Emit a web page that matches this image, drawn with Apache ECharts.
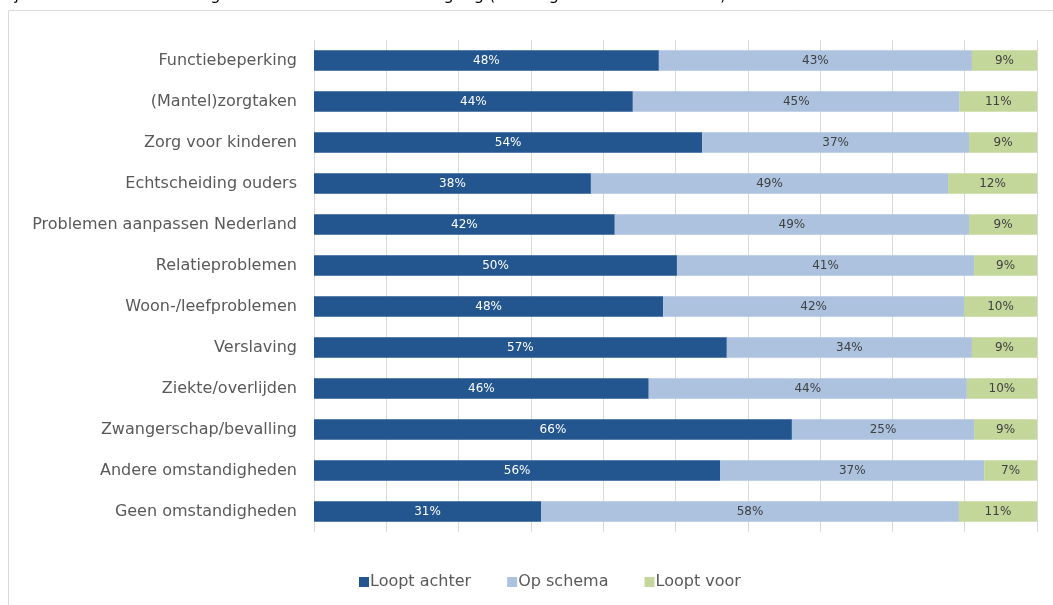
<!DOCTYPE html>
<html><head><meta charset="utf-8">
<script src="https://cdn.jsdelivr.net/npm/echarts@6/dist/echarts.min.js"></script>
<style>html,body{margin:0;padding:0;background:#fff}#c{width:1053px;height:605px}</style>
</head><body><div id="c"></div>
<script>
const categories = ["Functiebeperking","(Mantel)zorgtaken","Zorg voor kinderen","Echtscheiding ouders","Problemen aanpassen Nederland","Relatieproblemen","Woon-/leefproblemen","Verslaving","Ziekte/overlijden","Zwangerschap/bevalling","Andere omstandigheden","Geen omstandigheden"];
const looptAchter = [47.7,44.1,53.7,38.3,41.6,50.2,48.3,57.1,46.3,66.1,56.2,31.4];
const opSchema    = [43.3,45.2,36.9,49.4,49.0,41.1,41.6,33.9,44.0,25.2,36.5,57.8];
const looptVoor   = [9.0,10.7,9.4,12.3,9.4,8.7,10.1,9.0,9.7,8.7,7.3,10.8];
const seriesNames = ["Loopt achter","Op schema","Loopt voor"];
const titleText = "bij verschillende omstandigheden naar hun studievoortgang (stat. significante verschillen).";

const font = "'DejaVu Sans', Verdana, sans-serif";
const colors = ["#23558F","#ACC2DF","#C4D79B"];
const labelColors = ["#ffffff","#404040","#404040"];
const data = [looptAchter, opSchema, looptVoor];

const chart = echarts.init(document.getElementById('c'));
chart.setOption({
  animation:false,
  graphic:[
    {type:'rect', shape:{x:8.5,y:10.5,width:1100,height:700}, style:{fill:'none',stroke:'#d9d9d9',lineWidth:1}, z:-1},
    {type:'text', left:0, top:-12, style:{text:titleText, font:"16px "+font, fill:'#000'}}
  ],
  grid:{left:314, right:16, top:40, bottom:73, containLabel:false},
  legend:{left:354, top:569, itemWidth:10, itemHeight:10, itemGap:36, icon:'rect',
    textStyle:{fontFamily:font, fontSize:16, color:'#595959', padding:[0,0,0,-4]},
    data:seriesNames},
  xAxis:{type:'value', min:0, max:100, interval:10,
    axisLabel:{show:false}, axisLine:{show:false}, axisTick:{show:false},
    splitLine:{show:true, lineStyle:{color:'#d9d9d9', width:1}}},
  yAxis:{type:'category', inverse:true, data:categories,
    axisLine:{show:false}, axisTick:{show:false},
    axisLabel:{fontFamily:font, fontSize:16, color:'#595959', margin:17}},
  series: seriesNames.map((n,i)=>({
    name:n, type:'bar', stack:'t', data:data[i], barWidth:'50%',
    itemStyle:{color:colors[i]},
    label:{show:true, position:'inside', color:labelColors[i], fontFamily:font, fontSize:12,
      formatter:p=>Math.round(p.value)+'%'}
  }))
});
</script></body></html>
